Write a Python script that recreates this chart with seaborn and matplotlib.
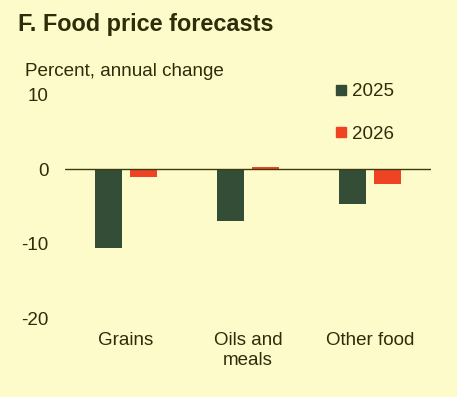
import pandas as pd
import seaborn as sns
import matplotlib.pyplot as plt
from matplotlib.lines import Line2D

# Data
categories = ['Grains', 'Oils and\nmeals', 'Other food']
years = ['2025', '2026']
values_2025 = [-10.5, -6.9, -4.6]
values_2026 = [-1.1, 0.3, -2.0]
yticks = [10, 0, -10, -20]

df = pd.DataFrame({
    'category': categories * 2,
    'year': [years[0]] * 3 + [years[1]] * 3,
    'value': values_2025 + values_2026,
})

bg = '#FEFBCB'
text_col = '#2F2C0A'
colors = {'2025': '#334D36', '2026': '#EE4423'}

sns.set_style('white')
plt.rcParams['font.family'] = ['Liberation Sans', 'DejaVu Sans']

fig = plt.figure(figsize=(4.57, 3.97), dpi=100, facecolor=bg)
ax = fig.add_axes([65 / 457, 1 - 318.5 / 397, 366 / 457, 224 / 397])
ax.set_facecolor(bg)

sns.barplot(data=df, x='category', y='value', hue='year', palette=colors,
            width=0.574, gap=0.23, ax=ax, legend=False, saturation=1,
            linewidth=0)

ax.axhline(0, color='#3B3A10', lw=1.0, zorder=3)
ax.set_ylim(-20, 10)
ax.set_xlim(-0.5, 2.5)
ax.set_yticks(yticks)
ax.set_yticklabels([str(t) for t in yticks])
ax.tick_params(axis='both', length=0, labelsize=13.5, labelcolor=text_col)
ax.tick_params(axis='y', pad=12)
ax.tick_params(axis='x', pad=10)
ax.set_xlabel('')
ax.set_ylabel('')
for s in ax.spines.values():
    s.set_visible(False)

handles = [Line2D([], [], marker='s', linestyle='', color=colors[y], markersize=7)
           for y in years]
fig.legend(handles, years, loc='upper left', bbox_to_anchor=(335 / 457, 1 - 83 / 397),
           frameon=False, fontsize=13.5, labelcolor=text_col, handlelength=0.6,
           handletextpad=0.3, labelspacing=1.35, borderaxespad=0, borderpad=0)

fig.text(18 / 457, 1 - 24 / 397, 'F. Food price forecasts', fontsize=16.9,
         fontweight='bold', color=text_col, va='center', ha='left')
fig.text(25 / 457, 1 - 71 / 397, 'Percent, annual change', fontsize=13.6,
         color=text_col, va='center', ha='left')

fig.savefig('out.png', dpi=100, facecolor=bg)
